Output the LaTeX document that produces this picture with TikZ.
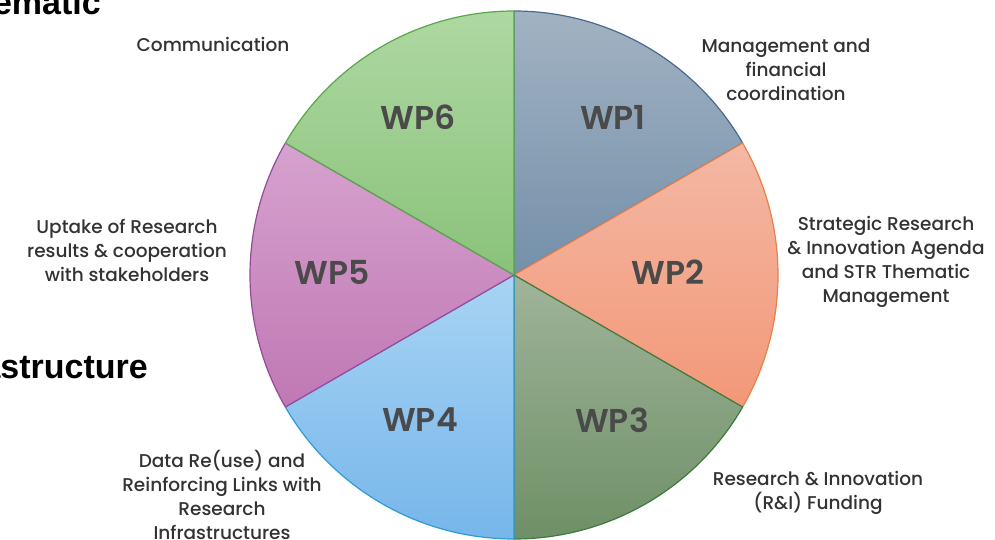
\documentclass[tikz,border=0pt]{standalone}
\usepackage{fontspec}
\setmainfont{Poppins}
\newfontfamily\wpfont{Poppins SemiBold}
\newfontfamily\lblfont{Poppins Medium}
\newfontfamily\bgfont{Liberation Sans}
\definecolor{wpAt}{HTML}{A2B2C2}\definecolor{wpAb}{HTML}{7490AA}\definecolor{wpAl}{HTML}{4A6A8C}
\definecolor{wpBt}{HTML}{F3B8A4}\definecolor{wpBb}{HTML}{F39878}\definecolor{wpBl}{HTML}{E8804C}
\definecolor{wpCt}{HTML}{A0B49A}\definecolor{wpCb}{HTML}{6E9066}\definecolor{wpCl}{HTML}{3E7A3E}
\definecolor{wpDt}{HTML}{A8D4F4}\definecolor{wpDb}{HTML}{76B6EA}\definecolor{wpDl}{HTML}{2E9AD8}
\definecolor{wpEt}{HTML}{D6A2CE}\definecolor{wpEb}{HTML}{C078B4}\definecolor{wpEl}{HTML}{984A9A}
\definecolor{wpFt}{HTML}{AED8A2}\definecolor{wpFb}{HTML}{8AC27A}\definecolor{wpFl}{HTML}{58A84A}
\definecolor{txt}{HTML}{333333}
\definecolor{wptxt}{HTML}{4A4A4A}
\begin{document}
\begin{tikzpicture}[x=1pt,y=1pt,
  wplabel/.style={text=wptxt,font=\wpfont\fontsize{33}{36}\selectfont,inner sep=0pt},
  side/.style={text=txt,align=center,font=\lblfont\fontsize{18.5}{24}\selectfont,inner sep=0pt},
  bgtext/.style={text=black,font=\bgfont\bfseries\fontsize{34}{38}\selectfont,inner sep=0pt}]
\useasboundingbox (0,0) rectangle (995,539);
\fill[white] (0,0) rectangle (995,539);
\node[bgtext,anchor=base east] (bgA) at (101,524) {Thematic};
\node[bgtext,anchor=base east] (bgB) at (148,161) {Infrastructure};
\coordinate (c) at (514,264);
\foreach \s/\e/\tc/\bc/\lc in {90/30/wpAt/wpAb/wpAl,30/-30/wpBt/wpBb/wpBl,-30/-90/wpCt/wpCb/wpCl,-90/-150/wpDt/wpDb/wpDl,-150/-210/wpEt/wpEb/wpEl,150/90/wpFt/wpFb/wpFl}{
  \path[draw=\lc,line width=1.2pt,line join=round,top color=\tc,bottom color=\bc]
    (c) -- ++(\s:264pt) arc[start angle=\s,end angle=\e,radius=264pt] -- cycle;
}
\node[wplabel] (wp1) at (613,422) {WP1};
\node[wplabel] (wp6) at (418,422) {WP6};
\node[wplabel] (wp2) at (668,267) {WP2};
\node[wplabel] (wp5) at (332,267) {WP5};
\node[wplabel] (wp4) at (420,119) {WP4};
\node[wplabel] (wp3) at (612,119) {WP3};
\node[side] (l6) at (213,495) {Communication};
\node[side] (l1) at (786,469) {Management and\\financial\\coordination};
\node[side] (l2) at (886,277) {Strategic Research\\\& Innovation Agenda\\and STR Thematic\\Management};
\node[side] (l5) at (127,289) {Uptake of Research\\results \& cooperation\\with stakeholders};
\node[side] (l4) at (222,44) {Data Re(use) and\\Reinforcing Links with\\Research\\Infrastructures};
\node[side] (l3) at (818,46) {Research \& Innovation\\(R\&I) Funding};
\end{tikzpicture}
\end{document}
